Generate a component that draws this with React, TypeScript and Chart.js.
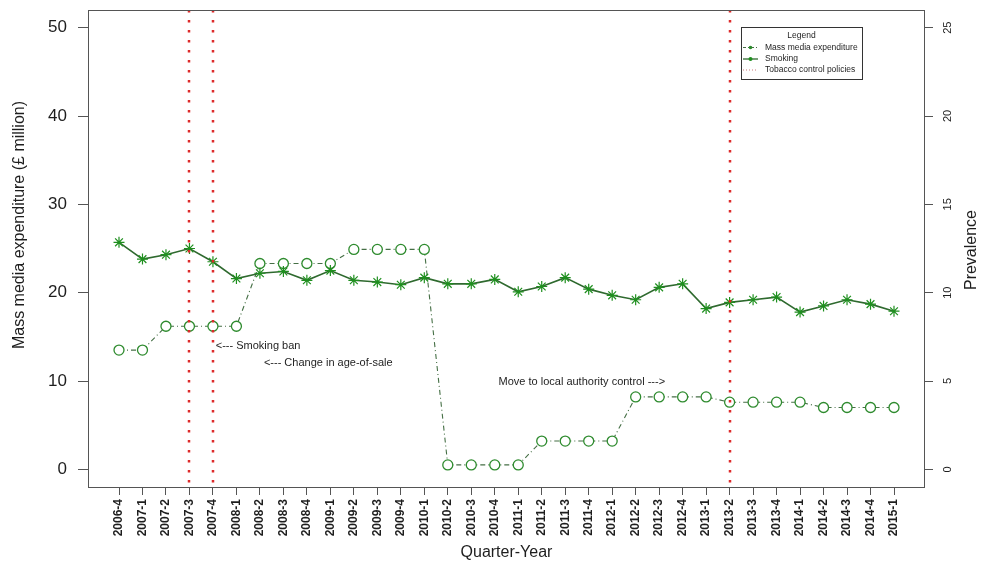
import React, { useEffect, useRef } from 'react';
import { Chart, registerables } from 'chart.js';

Chart.register(...registerables);

// Quarter labels along the x axis
const quarters = [
  '2006-4',
  '2007-1', '2007-2', '2007-3', '2007-4',
  '2008-1', '2008-2', '2008-3', '2008-4',
  '2009-1', '2009-2', '2009-3', '2009-4',
  '2010-1', '2010-2', '2010-3', '2010-4',
  '2011-1', '2011-2', '2011-3', '2011-4',
  '2012-1', '2012-2', '2012-3', '2012-4',
  '2013-1', '2013-2', '2013-3', '2013-4',
  '2014-1', '2014-2', '2014-3', '2014-4',
  '2015-1',
];

// Mass media expenditure, £ million (left axis)
const massMedia = [
  13.5,
  13.5, 16.2, 16.2, 16.2,
  16.2, 23.3, 23.3, 23.3,
  23.3, 24.9, 24.9, 24.9,
  24.9, 0.5, 0.5, 0.5,
  0.5, 3.2, 3.2, 3.2,
  3.2, 8.2, 8.2, 8.2,
  8.2, 7.6, 7.6, 7.6,
  7.6, 7.0, 7.0, 7.0,
  7.0,
];

// Smoking prevalence, % (right axis)
const smoking = [
  12.85,
  11.9, 12.15, 12.5, 11.75,
  10.8, 11.1, 11.2, 10.7,
  11.25, 10.7, 10.6, 10.45,
  10.85, 10.5, 10.5, 10.75,
  10.05, 10.35, 10.85, 10.2,
  9.85, 9.6, 10.3, 10.5,
  9.1, 9.45, 9.6, 9.75,
  8.9, 9.25, 9.6, 9.35,
  8.95,
];

// Quarters in which tobacco control policies came in
const policyQuarters = ['2007-3', '2007-4', '2013-2'];

const leftTicks = [0, 10, 20, 30, 40, 50];
const rightTicks = [0, 5, 10, 15, 20, 25];

// Notes written inside the plot, anchored in data units (x = quarter index, y = left axis)
const noteTexts = ['<--- Smoking ban', '<--- Change in age-of-sale', 'Move to local authority control --->'];
const noteX = [4.12, 6.17, 16.16];
const noteY = [14.0, 12.0, 9.9];

const FONT = '"Liberation Sans", Arial, Helvetica, sans-serif';
const TEXT = '#1e1e1e';
const FRAME = '#555555';
const POLICY_RED = '#dd2b2b';
const SMOKE_LINE = '#2f6a2f';
const SMOKE_MARK = '#1f8f1f';
const MEDIA_LINE = '#456f45';
const MEDIA_MARK = '#2e8b2e';

const decorations = {
  id: 'decorations',
  afterDatasetsDraw(chart: any) {
    const { ctx, chartArea: a, scales } = chart;
    const xs = scales.x;
    ctx.save();
    ctx.beginPath();
    ctx.rect(a.left, a.top, a.right - a.left, a.bottom - a.top);
    ctx.clip();
    ctx.strokeStyle = POLICY_RED;
    ctx.lineWidth = 2.5;
    ctx.setLineDash([2.5, 7.5]);
    for (const q of policyQuarters) {
      const px = Math.round(xs.getPixelForValue(quarters.indexOf(q)));
      ctx.beginPath();
      ctx.moveTo(px, a.top);
      ctx.lineTo(px, a.bottom);
      ctx.stroke();
    }
    ctx.restore();
  },
  afterDraw(chart: any) {
    const { ctx, chartArea: a, scales } = chart;
    const xs = scales.x;
    const ys = scales.y;
    const y2 = scales.y2;
    ctx.save();

    // plot frame
    ctx.strokeStyle = FRAME;
    ctx.lineWidth = 1;
    ctx.setLineDash([]);
    ctx.strokeRect(Math.round(a.left) + 0.5, Math.round(a.top) + 0.5,
      Math.round(a.right - a.left) - 1, Math.round(a.bottom - a.top));

    // right axis tick labels, turned to read upwards
    ctx.fillStyle = TEXT;
    ctx.font = `11px ${FONT}`;
    ctx.textAlign = 'center';
    ctx.textBaseline = 'middle';
    for (const v of rightTicks) {
      const py = y2.getPixelForValue(v);
      ctx.save();
      ctx.translate(948, py);
      ctx.rotate(-Math.PI / 2);
      ctx.fillText(String(v), 0, 0);
      ctx.restore();
    }

    // axis titles
    ctx.font = `16px ${FONT}`;
    ctx.save();
    ctx.translate(19.5, 225);
    ctx.rotate(-Math.PI / 2);
    ctx.fillText('Mass media expenditure (£ million)', 0, 0);
    ctx.restore();
    ctx.save();
    ctx.translate(972, 250);
    ctx.rotate(-Math.PI / 2);
    ctx.fillText('Prevalence', 0, 0);
    ctx.restore();
    ctx.fillText('Quarter-Year', (a.left + a.right) / 2, 553);

    // notes
    ctx.font = `11px ${FONT}`;
    ctx.textAlign = 'left';
    noteTexts.forEach((t, i) => {
      ctx.fillText(t, xs.getPixelForValue(noteX[i]), ys.getPixelForValue(noteY[i]));
    });

    // legend box
    const lx = 741, ly = 27, lw = 121, lh = 52;
    ctx.fillStyle = '#ffffff';
    ctx.fillRect(lx, ly, lw, lh);
    ctx.strokeStyle = '#333333';
    ctx.lineWidth = 1;
    ctx.strokeRect(lx + 0.5, ly + 0.5, lw, lh);
    ctx.fillStyle = TEXT;
    ctx.font = `8.5px ${FONT}`;
    ctx.textAlign = 'center';
    ctx.fillText('Legend', lx + lw / 2, 35.5);
    ctx.textAlign = 'left';
    const rows = [47.5, 59, 70];
    const labels = ['Mass media expenditure', 'Smoking', 'Tobacco control policies'];
    // mass media sample
    ctx.strokeStyle = MEDIA_LINE;
    ctx.lineWidth = 1;
    ctx.setLineDash([3, 2, 1, 2]);
    ctx.beginPath(); ctx.moveTo(743, rows[0]); ctx.lineTo(758, rows[0]); ctx.stroke();
    ctx.setLineDash([]);
    ctx.fillStyle = MEDIA_MARK;
    ctx.beginPath(); ctx.arc(750.5, rows[0], 1.8, 0, Math.PI * 2); ctx.fill();
    // smoking sample
    ctx.strokeStyle = SMOKE_LINE;
    ctx.lineWidth = 1.3;
    ctx.beginPath(); ctx.moveTo(743, rows[1]); ctx.lineTo(758, rows[1]); ctx.stroke();
    ctx.fillStyle = SMOKE_MARK;
    ctx.beginPath(); ctx.arc(750.5, rows[1], 2, 0, Math.PI * 2); ctx.fill();
    // policy sample
    ctx.strokeStyle = '#c97a7a';
    ctx.lineWidth = 1;
    ctx.setLineDash([1, 2]);
    ctx.beginPath(); ctx.moveTo(743, rows[2]); ctx.lineTo(758, rows[2]); ctx.stroke();
    ctx.setLineDash([]);
    ctx.fillStyle = TEXT;
    labels.forEach((t, i) => ctx.fillText(t, 765, rows[i]));

    ctx.restore();
  },
};

// Fixed axis thickness, with no extra edge padding for half-height labels
const fixWidth = (w: number) => (s: any) => {
  s.width = w;
  s.paddingTop = 0;
  s.paddingBottom = 0;
};

export default function App() {
  const canvasRef = useRef<HTMLCanvasElement | null>(null);

  useEffect(() => {
    const canvas = canvasRef.current;
    if (!canvas) return;
    const chart = new Chart(canvas, {
      type: 'line',
      data: {
        datasets: [
          {
            label: 'Smoking',
            data: smoking.map((v, i) => ({ x: i, y: v })),
            yAxisID: 'y2',
            borderColor: SMOKE_LINE,
            borderWidth: 1.6,
            pointStyle: 'star',
            pointRadius: 5.5,
            pointBorderWidth: 1.2,
            pointBorderColor: SMOKE_MARK,
            pointBackgroundColor: SMOKE_MARK,
            tension: 0,
          },
          {
            label: 'Mass media expenditure',
            data: massMedia.map((v, i) => ({ x: i, y: v })),
            yAxisID: 'y',
            borderColor: MEDIA_LINE,
            borderWidth: 1.1,
            borderDash: [5, 3, 1, 3],
            pointStyle: 'circle',
            pointRadius: 5,
            pointBorderWidth: 1.3,
            pointBorderColor: MEDIA_MARK,
            pointBackgroundColor: '#ffffff',
            tension: 0,
          },
        ],
      },
      options: {
        animation: false,
        responsive: false,
        devicePixelRatio: 1,
        layout: { padding: { top: 10, left: 0, right: 0, bottom: 0 } },
        plugins: {
          legend: { display: false },
          tooltip: { enabled: false },
        },
        scales: {
          x: {
            type: 'linear',
            min: -1.32,
            max: quarters.length - 1 + 1.32,
            afterBuildTicks: (s: any) => {
              s.ticks = quarters.map((_, i) => ({ value: i }));
            },
            afterFit: (s: any) => {
              s.height = 80;
              s.paddingLeft = 0;
              s.paddingRight = 0;
            },
            ticks: {
              autoSkip: false,
              minRotation: 90,
              maxRotation: 90,
              padding: 4,
              color: TEXT,
              font: { family: FONT, size: 12, weight: 'bold' },
              callback: (v: any) => quarters[v] ?? '',
            },
            grid: { drawOnChartArea: false, drawTicks: true, tickLength: 8, color: FRAME },
            border: { display: false },
          },
          y: {
            type: 'linear',
            position: 'left',
            min: -2,
            max: 52,
            afterBuildTicks: (s: any) => {
              s.ticks = leftTicks.map((v) => ({ value: v }));
            },
            afterFit: fixWidth(88),
            ticks: {
              padding: 11,
              color: TEXT,
              font: { family: FONT, size: 17 },
            },
            grid: { drawOnChartArea: false, drawTicks: true, tickLength: 10, color: FRAME },
            border: { display: false },
          },
          y2: {
            type: 'linear',
            position: 'right',
            min: -1,
            max: 26,
            afterBuildTicks: (s: any) => {
              s.ticks = rightTicks.map((v) => ({ value: v }));
            },
            afterFit: fixWidth(58),
            ticks: { display: false },
            grid: { drawOnChartArea: false, drawTicks: true, tickLength: 8, color: FRAME },
            border: { display: false },
          },
        },
      },
      plugins: [decorations],
    } as any);
    return () => chart.destroy();
  }, []);

  return (
    <div style={{ position: 'fixed', left: 0, top: 0, width: 983, height: 567, background: '#ffffff' }}>
      <canvas ref={canvasRef} width={983} height={567} style={{ display: 'block' }} />
    </div>
  );
}
